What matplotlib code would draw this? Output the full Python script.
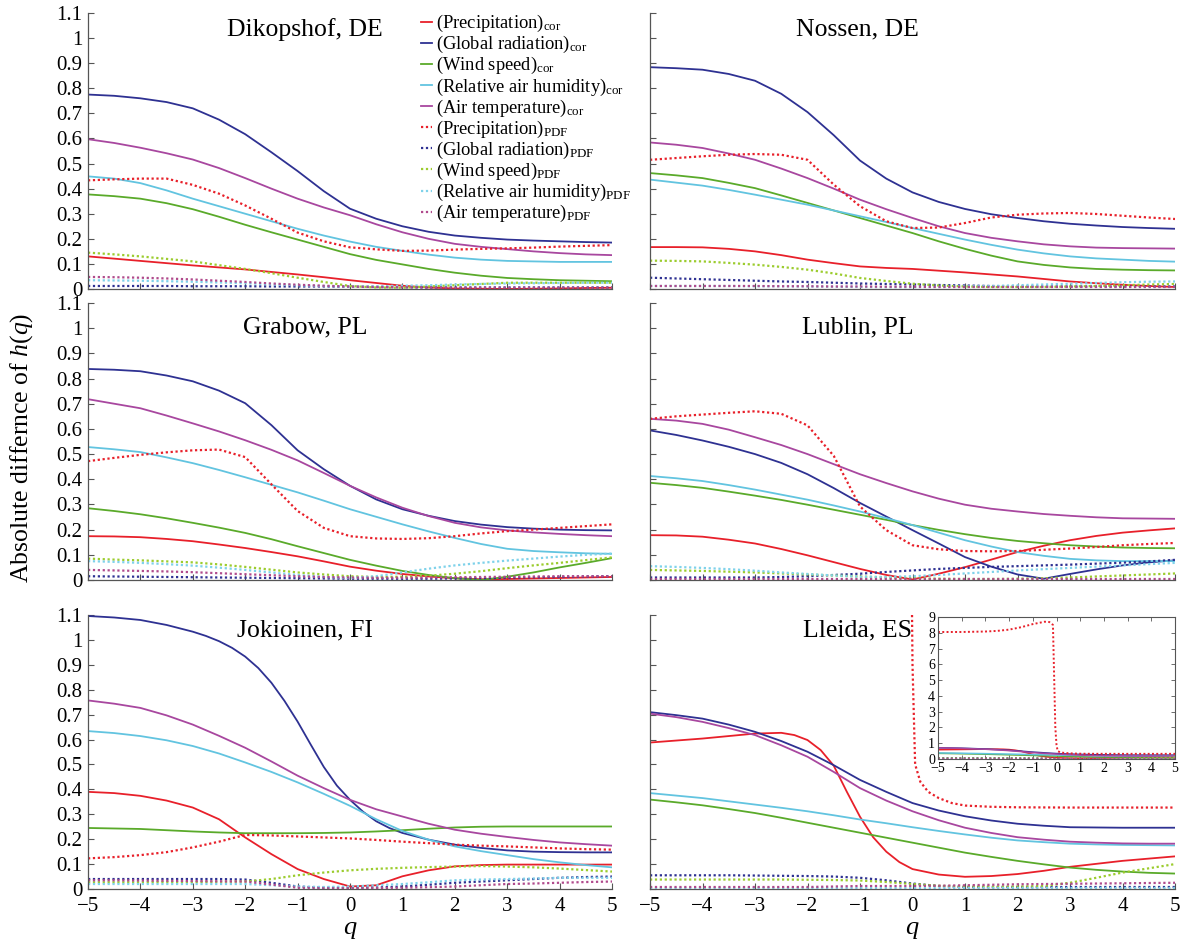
import numpy as np
import matplotlib
matplotlib.use("Agg")
import matplotlib.pyplot as plt

plt.rcParams['font.family'] = ['Liberation Serif', 'DejaVu Serif']
plt.rcParams['mathtext.fontset'] = 'custom'
plt.rcParams['mathtext.rm'] = 'Liberation Serif'
plt.rcParams['mathtext.it'] = 'Liberation Serif:italic'

# ---------------- data ----------------
q = [-5, -4.5, -4, -3.5, -3, -2.5, -2, -1.5, -1, -0.5, 0, 0.5, 1, 1.5, 2, 2.5, 3, 3.5, 4, 4.5, 5]

stations = ["Dikopshof, DE", "Nossen, DE", "Grabow, PL", "Lublin, PL", "Jokioinen, FI", "Lleida, ES"]
variables = ["Precipitation", "Global radiation", "Wind speed", "Relative air humidity", "Air temperature"]

# Dikopshof, DE
dik_pr_cor = [.13, .121, .112, .103, .094, .086, .078, .068, .058, .047, .035, .024, .013, .006, .002, .001, .0, .001, .002, .004, .005]
dik_gr_cor = [.775, .77, .76, .745, .72, .675, .617, .545, .47, .39, .32, .28, .25, .228, .213, .204, .197, .193, .19, .187, .185]
dik_ws_cor = [.377, .37, .36, .342, .318, .288, .256, .226, .197, .168, .139, .116, .098, .08, .065, .053, .044, .039, .035, .033, .031]
dik_rh_cor = [.449, .44, .422, .393, .36, .33, .30, .27, .24, .213, .189, .168, .152, .137, .125, .117, .112, .11, .108, .108, .108]
dik_at_cor = [.597, .582, .563, .541, .516, .482, .442, .40, .36, .325, .294, .258, .226, .20, .18, .168, .159, .15, .143, .138, .135]
dik_pr_pdf = [.433, .437, .44, .44, .415, .38, .333, .28, .225, .19, .166, .158, .152, .153, .157, .16, .162, .165, .169, .172, .175]
dik_gr_pdf = [.012, .012, .012, .012, .011, .011, .011, .01, .01, .01, .009, .008, .007, .006, .006, .006, .006, .006, .006, .006, .006]
dik_ws_pdf = [.145, .138, .13, .12, .11, .095, .08, .063, .045, .028, .012, .006, .005, .01, .015, .02, .025, .025, .025, .025, .025]
dik_rh_pdf = [.035, .034, .033, .031, .029, .026, .023, .019, .015, .012, .01, .011, .013, .015, .018, .02, .022, .023, .024, .025, .025]
dik_at_pdf = [.048, .047, .045, .042, .038, .033, .028, .022, .017, .013, .01, .008, .007, .006, .005, .005, .005, .005, .005, .005, .005]

# Nossen, DE
nos_pr_cor = [.167, .167, .166, .16, .15, .135, .117, .103, .09, .084, .08, .073, .066, .058, .05, .04, .03, .023, .017, .012, .008]
nos_gr_cor = [.884, .88, .874, .857, .83, .778, .705, .613, .512, .44, .385, .347, .319, .298, .283, .27, .26, .253, .247, .243, .24]
nos_ws_cor = [.462, .453, .442, .423, .402, .373, .343, .313, .283, .253, .223, .19, .16, .133, .11, .096, .086, .08, .077, .075, .074]
nos_rh_cor = [.436, .424, .412, .395, .376, .356, .336, .313, .29, .267, .243, .22, .197, .176, .157, .142, .13, .122, .117, .112, .109]
nos_at_cor = [.584, .575, .562, .54, .515, .48, .442, .40, .356, .318, .283, .25, .223, .204, .19, .178, .17, .165, .163, .162, .161]
nos_pr_pdf = [.515, .522, .529, .535, .538, .535, .515, .416, .33, .27, .243, .245, .263, .285, .296, .301, .303, .299, .292, .285, .279]
nos_gr_pdf = [.045, .042, .039, .036, .033, .03, .028, .025, .022, .02, .018, .016, .014, .012, .01, .01, .01, .01, .01, .01, .01]
nos_ws_pdf = [.113, .112, .11, .104, .097, .088, .077, .062, .044, .032, .021, .014, .01, .008, .008, .008, .01, .012, .015, .018, .02]
nos_rh_pdf = [.012, .012, .012, .012, .011, .011, .01, .009, .008, .007, .007, .008, .01, .012, .015, .018, .021, .024, .027, .029, .03]
nos_at_pdf = [.012, .012, .012, .012, .012, .011, .011, .01, .01, .009, .009, .008, .008, .008, .008, .008, .008, .008, .008, .008, .008]

# Grabow, PL
gra_pr_cor = [.174, .173, .17, .163, .154, .141, .127, .111, .094, .074, .053, .037, .024, .014, .007, .003, .004, .006, .008, .01, .012]
gra_gr_cor = [.838, .835, .829, .812, .789, .752, .702, .615, .515, .44, .374, .32, .281, .255, .234, .22, .21, .204, .2, .198, .197]
gra_ws_cor = [.285, .274, .261, .245, .227, .208, .187, .162, .134, .107, .08, .057, .036, .02, .007, .0, .013, .03, .05, .068, .087]
gra_rh_cor = [.528, .519, .508, .487, .464, .437, .408, .378, .348, .315, .281, .251, .221, .193, .167, .143, .124, .115, .11, .106, .104]
gra_at_cor = [.718, .70, .682, .653, .622, .59, .555, .517, .475, .425, .374, .328, .287, .254, .227, .209, .197, .189, .183, .178, .174]
gra_pr_pdf = [.472, .485, .497, .507, .515, .518, .488, .38, .274, .207, .174, .165, .163, .166, .174, .185, .194, .2, .207, .214, .221]
gra_gr_pdf = [.015, .014, .013, .012, .011, .01, .009, .008, .007, .006, .005, .005, .005, .005, .006, .007, .009, .011, .012, .014, .015]
gra_ws_pdf = [.085, .081, .078, .074, .07, .062, .052, .041, .03, .022, .015, .012, .013, .017, .025, .035, .047, .058, .068, .079, .09]
gra_rh_pdf = [.075, .072, .068, .063, .057, .049, .04, .03, .02, .012, .008, .015, .03, .045, .058, .068, .077, .085, .093, .1, .105]
gra_at_pdf = [.04, .038, .036, .034, .031, .027, .023, .019, .015, .012, .01, .009, .009, .01, .011, .012, .013, .014, .015, .015, .015]

# Lublin, PL
lub_pr_cor = [.178, .177, .172, .16, .145, .123, .098, .071, .044, .02, .002, .025, .051, .081, .111, .136, .158, .175, .188, .197, .205]
lub_gr_cor = [.594, .576, .554, .529, .50, .465, .42, .365, .306, .252, .198, .145, .091, .053, .022, .005, .024, .042, .058, .07, .078]
lub_ws_cor = [.386, .377, .366, .351, .335, .318, .299, .279, .259, .239, .218, .199, .182, .167, .155, .146, .138, .133, .129, .127, .126]
lub_rh_cor = [.413, .404, .393, .377, .359, .339, .319, .296, .272, .246, .218, .188, .158, .133, .111, .096, .084, .078, .075, .075, .075]
lub_at_cor = [.64, .633, .62, .597, .567, .536, .50, .46, .42, .385, .352, .323, .299, .283, .272, .262, .255, .249, .245, .244, .243]
lub_pr_pdf = [.64, .65, .657, .664, .67, .66, .614, .493, .292, .198, .138, .122, .115, .114, .115, .12, .125, .131, .138, .143, .147]
lub_gr_pdf = [.01, .01, .01, .01, .01, .012, .015, .02, .025, .032, .038, .044, .048, .052, .055, .058, .061, .065, .069, .074, .08]
lub_ws_pdf = [.04, .038, .036, .033, .03, .026, .022, .018, .014, .01, .007, .005, .004, .004, .005, .007, .01, .014, .018, .022, .026]
lub_rh_pdf = [.055, .052, .048, .043, .037, .03, .024, .018, .013, .012, .015, .02, .026, .032, .038, .043, .048, .053, .058, .063, .068]
lub_at_pdf = [.003, .003, .003, .003, .003, .003, .003, .003, .003, .003, .003, .003, .003, .003, .003, .003, .003, .003, .003, .003, .003]

# Jokioinen, FI
jok_pr_cor = [.39, .385, .374, .355, .327, .28, .207, .14, .08, .04, .01, .015, .051, .075, .091, .096, .098, .098, .098, .098, .098]
q_jok_gr_cor = [-5, -4.5, -4, -3.5, -3, -2.75, -2.5, -2.25, -2, -1.75, -1.5, -1.25, -1, -0.75, -0.5, -0.25, 0, 0.25, 0.5, 0.75, 1,
                1.5, 2, 2.5, 3, 3.5, 4, 4.5, 5]
jok_gr_cor = [1.096, 1.09, 1.08, 1.06, 1.033, 1.016, .995, .968, .933, .887, .828, .755, .672, .58, .49, .415, .358, .31, .272, .245, .225,
              .198, .178, .165, .155, .15, .148, .147, .147]
jok_ws_cor = [.245, .243, .241, .236, .231, .227, .224, .224, .224, .225, .227, .231, .236, .242, .247, .25, .251, .251, .251, .251, .251]
jok_rh_cor = [.634, .626, .614, .597, .574, .544, .508, .47, .428, .382, .334, .28, .233, .198, .171, .152, .136, .12, .107, .096, .087]
jok_at_cor = [.757, .744, .727, .697, .66, .615, .567, .512, .455, .405, .358, .32, .291, .262, .238, .222, .209, .197, .187, .18, .174]
jok_pr_pdf = [.123, .128, .136, .148, .167, .19, .217, .215, .211, .207, .203, .197, .19, .184, .178, .174, .171, .167, .163, .16, .158]
jok_gr_pdf = [.04, .04, .04, .04, .04, .04, .038, .025, .01, .005, .005, .006, .01, .017, .025, .03, .035, .04, .045, .048, .05]
jok_ws_pdf = [.027, .027, .027, .028, .028, .029, .03, .04, .055, .066, .075, .081, .085, .088, .09, .092, .09, .087, .082, .076, .07]
jok_rh_pdf = [.02, .02, .02, .02, .02, .02, .02, .015, .01, .008, .01, .015, .02, .027, .035, .038, .04, .042, .045, .045, .045]
jok_at_pdf = [.035, .035, .034, .033, .032, .031, .03, .018, .005, .003, .003, .004, .005, .007, .01, .015, .02, .022, .025, .028, .03]

# Lleida, ES
q_lle_pr_cor = [-5, -4.5, -4, -3.5, -3, -2.5, -2.25, -2, -1.75, -1.5, -1.25, -1, -0.75, -0.5, -0.25, 0, 0.5, 1,
                1.5, 2, 2.5, 3, 3.5, 4, 4.5, 5]
lle_pr_cor = [.588, .596, .604, .614, .624, .627, .618, .598, .558, .495, .39, .29, .208, .15, .108, .08, .058, .049,
              .052, .06, .073, .089, .101, .113, .122, .131]
lle_gr_cor = [.71, .698, .684, .66, .631, .594, .551, .497, .438, .39, .345, .315, .292, .275, .262, .254, .248, .247, .246, .246, .246]
lle_ws_cor = [.359, .348, .336, .321, .305, .286, .266, .246, .226, .206, .186, .166, .146, .129, .113, .099, .086, .077, .07, .065, .062]
lle_rh_cor = [.385, .375, .365, .352, .339, .326, .312, .296, .279, .264, .248, .233, .219, .206, .195, .188, .182, .179, .177, .176, .175]
lle_at_cor = [.704, .69, .671, .646, .618, .577, .531, .47, .405, .355, .312, .276, .246, .225, .208, .198, .19, .186, .183, .182, .182]
lle_gr_pdf = [.055, .055, .055, .055, .054, .053, .052, .05, .045, .035, .022, .012, .008, .008, .008, .008, .008, .008, .008, .008, .008]
lle_ws_pdf = [.038, .038, .038, .038, .038, .038, .037, .036, .034, .028, .02, .013, .01, .01, .01, .012, .025, .045, .066, .083, .1]
lle_rh_pdf = [.004, .004, .004, .004, .004, .004, .004, .004, .004, .004, .004, .004, .004, .004, .004, .004, .004, .004, .004, .004, .004]
lle_at_pdf = [.008, .008, .008, .008, .008, .008, .008, .01, .012, .012, .012, .013, .015, .017, .019, .02, .021, .022, .023, .024, .025]
# Lleida precipitation PDF goes far off-scale (shown in inset)
q_lle_pr_pdf = [-5, -4, -3, -2.5, -2, -1.5, -1, -0.5, -0.3, -0.15, -0.05, 0, 0.05, 0.15, 0.3, 0.5, 0.75, 1, 1.5, 2, 3, 4, 5]
lle_pr_pdf = [8.05, 8.05, 8.08, 8.12, 8.2, 8.35, 8.55, 8.7, 8.68, 8.5, 2.0, 0.9, 0.5, 0.43, 0.39, 0.365, 0.345, 0.335, 0.33, 0.328, 0.327, 0.327, 0.327]

panel_data = [
    [dik_pr_cor, dik_gr_cor, dik_ws_cor, dik_rh_cor, dik_at_cor,
     dik_pr_pdf, dik_gr_pdf, dik_ws_pdf, dik_rh_pdf, dik_at_pdf],
    [nos_pr_cor, nos_gr_cor, nos_ws_cor, nos_rh_cor, nos_at_cor,
     nos_pr_pdf, nos_gr_pdf, nos_ws_pdf, nos_rh_pdf, nos_at_pdf],
    [gra_pr_cor, gra_gr_cor, gra_ws_cor, gra_rh_cor, gra_at_cor,
     gra_pr_pdf, gra_gr_pdf, gra_ws_pdf, gra_rh_pdf, gra_at_pdf],
    [lub_pr_cor, lub_gr_cor, lub_ws_cor, lub_rh_cor, lub_at_cor,
     lub_pr_pdf, lub_gr_pdf, lub_ws_pdf, lub_rh_pdf, lub_at_pdf],
    [jok_pr_cor, (q_jok_gr_cor, jok_gr_cor), jok_ws_cor, jok_rh_cor, jok_at_cor,
     jok_pr_pdf, jok_gr_pdf, jok_ws_pdf, jok_rh_pdf, jok_at_pdf],
    [(q_lle_pr_cor, lle_pr_cor), lle_gr_cor, lle_ws_cor, lle_rh_cor, lle_at_cor,
     (q_lle_pr_pdf, lle_pr_pdf), lle_gr_pdf, lle_ws_pdf, lle_rh_pdf, lle_at_pdf],
]

cor_colors = ['#e8202a', '#2e3192', '#5aaa2a', '#62c4e0', '#a8479f']
pdf_colors = ['#e8202a', '#2e3192', '#9ccc2e', '#7fd2ea', '#b04a8c']

yticks = [0, 0.1, 0.2, 0.3, 0.4, 0.5, 0.6, 0.7, 0.8, 0.9, 1.0, 1.1]
ytick_labels = ['0', '0.1', '0.2', '0.3', '0.4', '0.5', '0.6', '0.7', '0.8', '0.9', '1', '1.1']
xticks = [-5, -4, -3, -2, -1, 0, 1, 2, 3, 4, 5]
xtick_labels = ['\u22125', '\u22124', '\u22123', '\u22122', '\u22121', '0', '1', '2', '3', '4', '5']


def xy(s):
    if isinstance(s, tuple):
        return s
    return q, s


# ---------------- figure ----------------
W, H = 1193, 949
fig = plt.figure(figsize=(W / 100, H / 100), dpi=100)

col_x = [(88, 612), (650, 1175)]
row_y = [(13, 289), (303, 580), (615, 889)]

dotted = (0, (1.0, 1.2))
for i in range(6):
    r, c = divmod(i, 2)
    x0, x1 = col_x[c]
    yt, yb = row_y[r]
    ax = fig.add_axes([x0 / W, 1 - yb / H, (x1 - x0) / W, (yb - yt) / H])
    series = panel_data[i]
    handles = []
    for k in range(5):
        xx, yy = xy(series[k])
        h, = ax.plot(xx, yy, color=cor_colors[k], lw=1.3,
                     label=f'({variables[k]})' + r'$_{\rm cor}$')
        handles.append(h)
    for k in range(5):
        xx, yy = xy(series[5 + k])
        h, = ax.plot(xx, yy, color=pdf_colors[k], lw=1.6, linestyle=dotted,
                     label=f'({variables[k]})' + r'$_{\rm PDF}$')
        handles.append(h)
    ax.set_xlim(-5, 5)
    ax.set_ylim(0, 1.1)
    ax.set_yticks(yticks)
    ax.set_xticks(xticks)
    for sp in ['top', 'right']:
        ax.spines[sp].set_visible(False)
    for sp in ['left', 'bottom']:
        ax.spines[sp].set_color('#555555')
        ax.spines[sp].set_linewidth(0.9)
    ax.tick_params(direction='in', length=4, width=0.8, color='#555555',
                   labelsize=15, pad=4)
    if c == 0:
        ax.set_yticklabels(ytick_labels)
    else:
        ax.set_yticklabels([])
    if r == 2:
        ax.set_xticklabels(xtick_labels)
        ax.tick_params(axis='x', pad=6)
    else:
        ax.set_xticklabels([])
    tx = 0.414 if c == 0 else 0.396
    ty = 0.91 if r == 1 else 0.942
    ax.text(tx, ty, stations[i], transform=ax.transAxes, ha='center', va='center',
            fontsize=18.5)
    if i == 0:
        ax.legend(handles=handles, loc='upper left', bbox_to_anchor=(0.635, 1.0),
                  frameon=False, fontsize=13.3, handlelength=0.6,
                  handletextpad=0.25, labelspacing=0.0, borderpad=0,
                  borderaxespad=0)

# inset in Lleida panel
iax = fig.add_axes([938 / W, 1 - 759 / H, (1175 - 938) / W, (759 - 617) / H])
series = panel_data[5]
for k in range(5):
    xx, yy = xy(series[k])
    iax.plot(xx, yy, color=cor_colors[k], lw=1.1)
for k in range(5):
    xx, yy = xy(series[5 + k])
    iax.plot(xx, yy, color=pdf_colors[k], lw=1.4, linestyle=dotted)
iax.set_xlim(-5, 5)
iax.set_ylim(0, 9)
iax.set_xticks(xticks)
iax.set_xticklabels(xtick_labels)
iax.set_yticks(range(10))
iax.set_yticklabels([str(v) for v in range(10)])
for sp in iax.spines.values():
    sp.set_color('#555555')
    sp.set_linewidth(0.8)
iax.tick_params(direction='in', length=3, width=0.6, color='#555555', labelsize=10,
                pad=2, top=True, right=True)

# axis labels
fig.text(22 / W, 1 - 448 / H, r'Absolute differnce of $h(q)$', rotation=90,
         ha='center', va='center', fontsize=18.5)
for cx in [350, 912]:
    fig.text(cx / W, 1 - 930 / H, r'$q$', ha='center', va='center', fontsize=19)

fig.savefig('out.png', dpi=100)
